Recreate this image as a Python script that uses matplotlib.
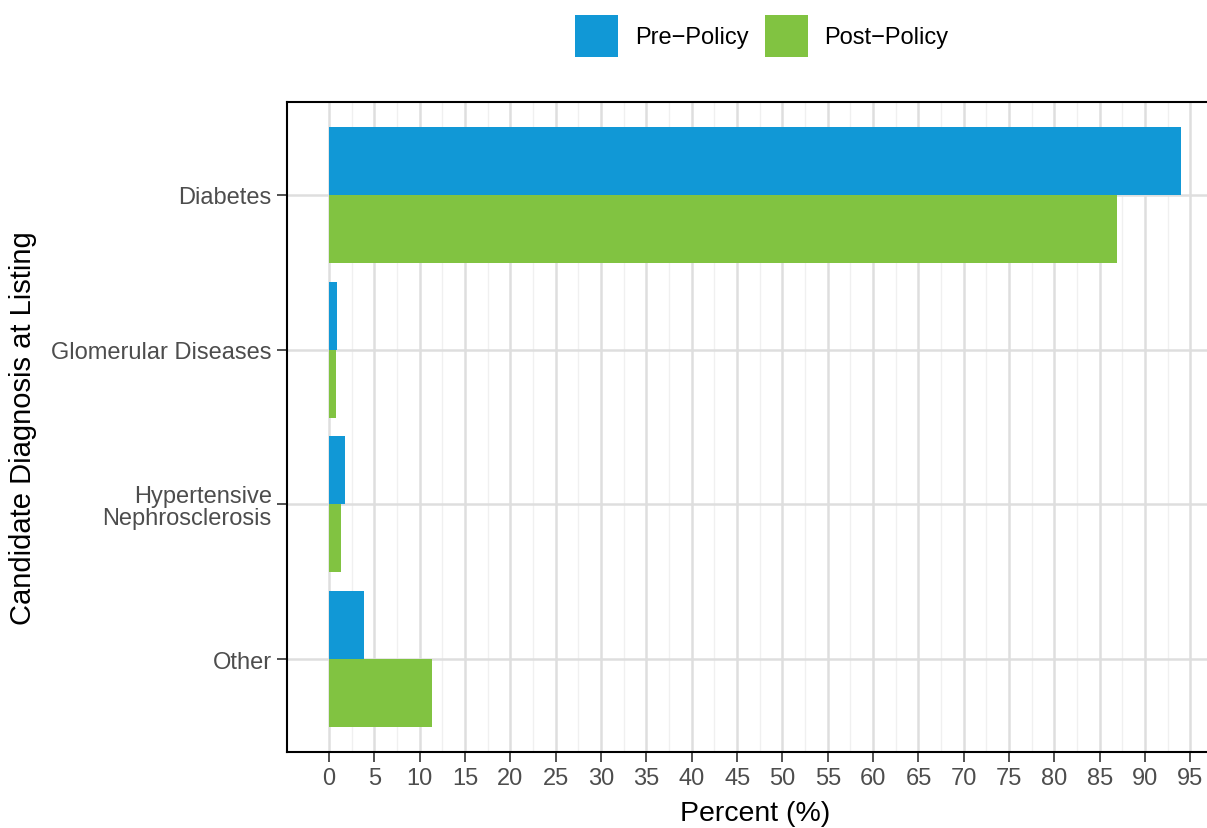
import matplotlib
matplotlib.use("Agg")
import matplotlib.pyplot as plt
import numpy as np
from matplotlib.patches import Patch

plt.rcParams['font.family'] = ['Liberation Sans', 'DejaVu Sans']

categories = ["Diabetes", "Glomerular Diseases", "Hypertensive\nNephrosclerosis", "Other"]
pre_policy = [94.0, 0.9, 1.7, 3.8]
post_policy = [86.9, 0.8, 1.3, 11.3]
series_names = ["Pre\u2212Policy", "Post\u2212Policy"]
colors = ["#1198D6", "#81C341"]
x_ticks = list(range(0, 100, 5))

W, H = 1207, 829
fig = plt.figure(figsize=(W / 100, H / 100), dpi=100)
left, right, top, bottom = 287, 1224, 103, 753
ax = fig.add_axes([left / W, 1 - bottom / H, (right - left) / W, (bottom - top) / H])

n = len(categories)
ypos = np.arange(n)[::-1] + 1  # Diabetes at top
bh = 0.44
ax.barh(ypos + bh / 2, pre_policy, height=bh, color=colors[0], zorder=3)
ax.barh(ypos - bh / 2, post_policy, height=bh, color=colors[1], zorder=3)

ax.set_xlim(-4.65, 98.7)
ax.set_ylim(0.4, 4.6)
ax.set_xticks(x_ticks)
ax.set_xticks(np.arange(2.5, 98, 5), minor=True)
ax.set_yticks(ypos)
ax.set_yticklabels(categories, multialignment='right', linespacing=1.0)
ax.tick_params(axis='both', which='major', length=7, width=1.2, color='#333333',
               labelcolor='#4D4D4D', labelsize=17, pad=4)
ax.tick_params(axis='both', which='minor', length=0)
ax.grid(True, which='major', color='#DEDEDE', linewidth=1.8, zorder=0)
ax.grid(True, which='minor', axis='x', color='#F0F0F0', linewidth=1.0, zorder=0)
ax.set_axisbelow(True)
for s in ax.spines.values():
    s.set_color('black')
    s.set_linewidth(1.5)

ax.set_xlabel("Percent (%)", fontsize=20.5, color='black', labelpad=8)
ax.set_ylabel("Candidate Diagnosis at Listing", fontsize=21, color='black', labelpad=10)

handles = [Patch(facecolor=c, edgecolor='none') for c in colors]
fig.legend(handles, series_names, loc='center', bbox_to_anchor=(762 / W, 1 - 37 / H),
           ncol=2, frameon=False, fontsize=17, handlelength=1.82, handleheight=2.4,
           handletextpad=0.7, columnspacing=0.7)

fig.savefig("out.png", dpi=100)
